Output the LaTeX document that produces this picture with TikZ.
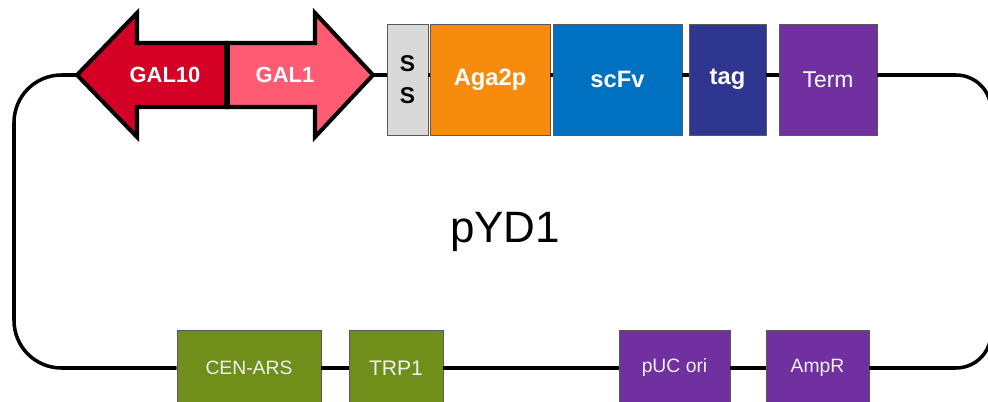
\documentclass[tikz,border=0pt]{standalone}
\usepackage{fontspec}
\setmainfont{Liberation Sans}

\definecolor{galten}{HTML}{D50026}
\definecolor{galone}{HTML}{FF5B73}
\definecolor{ssgray}{HTML}{D9D9D9}
\definecolor{agaorange}{HTML}{F68B0E}
\definecolor{scfvblue}{HTML}{0070C0}
\definecolor{tagblue}{HTML}{2E3690}
\definecolor{plum}{HTML}{7030A0}
\definecolor{olive}{HTML}{6F8F1A}

\tikzset{
  part/.style={draw=black!65, line width=0.5pt, minimum height=2.22cm, inner sep=0pt,
    text=white, font=\fontsize{13.5}{16}\selectfont\bfseries},
  lowpart/.style={part, minimum height=1.52cm, text=white!94!black,
    font=\fontsize{11}{13}\selectfont},
  backbone/.style={line width=2pt},
  genearrow/.style={draw=black, line width=2.3pt, line join=miter},
}

\begin{document}
\begin{tikzpicture}[x=0.02cm, y=-0.02cm]
  \clip (0,0) rectangle (988,402);

  % promoter arrows
  \draw [genearrow, fill=galten] (77,75) -- (137,13) -- (137,43) -- (227,43)
    -- (227,107) -- (137,107) -- (137,137) -- cycle;
  \draw [genearrow, fill=galone] (227,43) -- (315,43) -- (315,13) -- (373,75)
    -- (315,137) -- (315,107) -- (227,107) -- cycle;
  \draw [line width=3.2pt] (227,43) -- (227,107);
  \coordinate (gal10tip) at (77,75);
  \coordinate (gal1tip) at (373,75);
  \node [text=white, font=\fontsize{12.5}{15}\selectfont\bfseries] (gal10) at (165,75) {GAL10};
  \node [text=white, font=\fontsize{12.5}{15}\selectfont\bfseries] (gal1) at (285,75) {GAL1};

  % top cassette
  \node [part, fill=ssgray, text=black, minimum width=0.82cm, align=center,
    font=\fontsize{13}{18}\selectfont\bfseries] (ss) at (407.5,79.5) {S\\S};
  \node [part, fill=agaorange, minimum width=2.4cm] (aga) at (490,79.5) {Aga2p};
  \node [part, fill=scfvblue, minimum width=2.58cm] (scfv) at (617.5,79.5) {scFv};
  \node [part, fill=tagblue, minimum width=1.54cm] (tag) at (727.5,79.5) {tag};
  \node [part, fill=plum, minimum width=1.96cm, font=\fontsize{13}{16}\selectfont] (term) at (828,79.5) {Term};

  % vector parts
  \node [lowpart, fill=olive, minimum width=2.88cm] (cenars) at (249,368) {CEN-ARS};
  \node [lowpart, fill=olive, minimum width=1.88cm, font=\fontsize{12}{14}\selectfont] (trp) at (396,368) {TRP1};
  \node [lowpart, fill=plum, minimum width=2.22cm] (puc) at (674.5,368) {pUC ori};
  \node [lowpart, fill=plum, minimum width=2.06cm] (ampr) at (817.5,368) {AmpR};

  \node [font=\fontsize{25}{30}\selectfont] (name) at (505,232) {pYD1};

  % backbone
  \coordinate (lowleft) at (14,368);
  \coordinate (lowright) at (991,368);
  \draw [backbone] (gal1tip) -- (gal1tip -| ss.west);
  \foreach \a/\b in {ss/aga, aga/scfv, scfv/tag, tag/term}
    \draw [backbone] (\a.east |- gal1tip) -- (\b.west |- gal1tip);
  \foreach \a/\b in {cenars/trp, trp/puc, puc/ampr}
    \draw [backbone] (\a.east) -- (\b.west);
  \draw [backbone, rounded corners=0.95cm] (gal10tip) -| (lowleft) -- (cenars.west);
  \draw [backbone, rounded corners=0.7cm] (term.east |- gal1tip) -| (lowright) -- (ampr.east);
\end{tikzpicture}
\end{document}
